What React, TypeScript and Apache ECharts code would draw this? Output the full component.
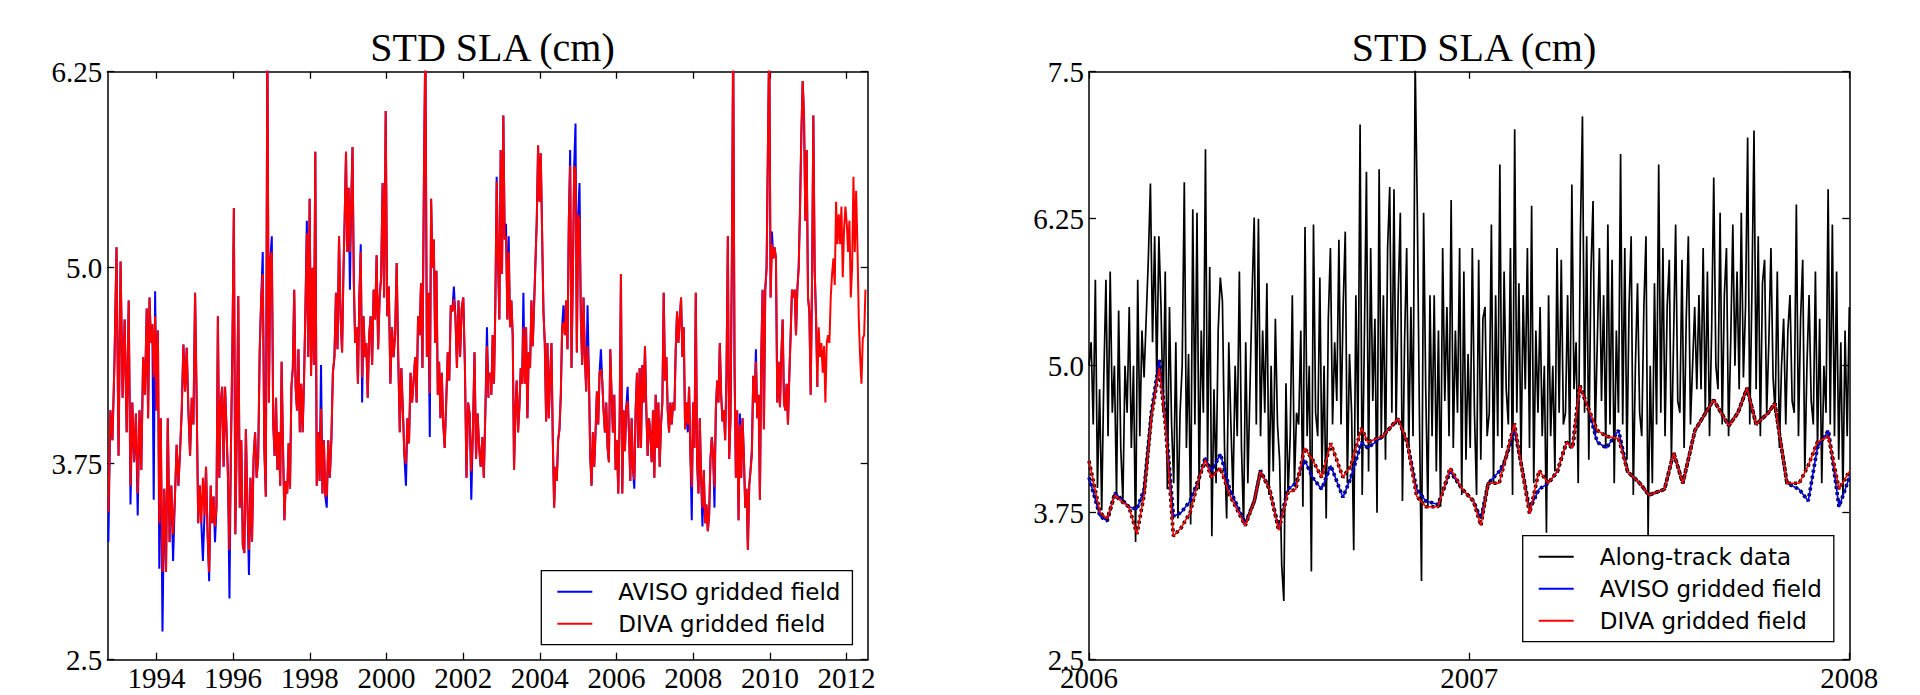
import React, { useEffect, useRef } from "react";
import * as echarts from "echarts";

// ---------- LEFT PANEL (1992.7 - 2012.5) ----------
const leftXMin = 1992.72;
const leftXMax = 2012.55;
const leftYearTicks = [1994, 1996, 1998, 2000, 2002, 2004, 2006, 2008, 2010, 2012];
// time stamps (decimal years) of every 10th reading of the first half
const leftAnchorsA = [
  1992.748, 1993.278, 1993.748, 1994.113, 1994.574, 1995.009, 1995.417, 1995.791, 1996.174,
  1996.574, 1996.974, 1997.339, 1997.704, 1998.070, 1998.443, 1998.843, 1999.183, 1999.548,
  1999.939, 2000.348, 2000.748, 2001.130, 2001.478, 2001.878, 2002.296, 2002.661,
];
const leftSegB = [2002.7, 2012.492];

const divaA = [
  3.44,4.09,3.90,4.40,5.13,3.80,5.04,4.17,4.67,3.95,
  4.79,3.61,4.14,3.76,4.07,3.56,4.09,3.71,4.43,4.19,
  4.74,4.04,4.81,4.52,4.64,4.30,4.69,4.09,4.60,3.37,
  4.04,3.06,3.59,3.06,4.04,3.25,3.61,3.30,3.52,3.87,
  3.61,3.83,4.09,4.51,4.21,4.49,4.09,3.80,4.17,4.00,
  4.84,4.17,3.37,3.61,3.37,3.66,3.42,3.73,3.30,3.06,
  3.61,3.37,3.54,3.35,3.47,4.69,3.66,4.14,4.24,3.73,
  4.24,3.97,3.66,3.20,3.85,4.50,5.38,3.30,3.95,4.82,
  3.47,3.90,3.23,3.18,3.97,3.49,3.20,3.66,3.25,3.78,
  3.95,3.66,3.78,4.46,4.81,4.96,3.85,3.54,6.50,4.14,
  5.06,5.10,4.00,3.80,4.17,3.71,3.95,3.61,4.40,3.85,
  3.39,3.64,3.56,3.88,3.59,4.24,4.36,4.86,4.24,4.09,
  4.48,3.95,4.26,3.95,4.28,4.74,5.22,4.43,5.44,4.31,
  5.00,4.38,5.74,3.61,3.95,3.64,4.10,3.56,3.90,3.54,
  3.55,3.90,3.66,3.90,4.33,4.43,4.84,4.48,5.20,4.69,
  4.46,4.96,5.32,5.74,5.10,5.51,5.10,5.42,5.77,4.91,
  4.52,4.62,4.26,4.81,5.10,4.30,4.69,4.43,4.52,4.17,
  4.57,4.69,4.38,4.86,4.67,5.08,4.48,4.81,4.94,5.54,
  4.81,6.00,4.69,4.88,4.26,4.62,4.43,4.57,5.03,4.43,
  3.95,4.36,4.09,3.80,3.75,4.04,3.88,4.33,4.14,4.28,
  4.43,4.14,4.69,4.57,4.90,4.36,5.58,6.50,4.43,4.84,
  4.20,5.44,5.00,5.18,4.52,4.98,4.19,4.40,4.04,4.33,
  4.02,3.85,4.14,4.46,4.28,4.76,4.72,4.80,4.69,4.36,
  4.79,4.43,4.74,4.81,4.38,3.66,4.14,4.07,3.70,3.95,
  4.46,3.78,4.07,3.85,3.73,3.92,3.66,4.09,4.50,4.17,
];

const avisoA = [
  3.25,4.09,3.90,4.40,5.13,3.80,5.04,4.17,4.67,3.95,
  4.79,3.49,4.14,3.76,4.07,3.42,4.09,3.71,4.43,4.19,
  4.74,4.04,4.81,4.52,4.64,3.52,4.85,4.09,4.60,3.08,
  4.04,2.68,3.59,3.06,4.04,3.25,3.61,3.13,3.52,3.87,
  3.61,3.83,4.09,4.51,4.21,4.49,4.09,3.80,4.17,4.00,
  4.84,4.17,3.37,3.61,3.37,3.13,3.42,3.73,3.30,3.00,
  3.61,3.37,3.54,3.25,3.47,4.69,3.66,4.14,4.24,3.73,
  4.24,3.97,3.66,2.89,3.85,4.50,5.38,3.30,3.95,4.82,
  3.47,3.90,3.23,3.18,3.97,3.49,3.04,3.66,3.25,3.78,
  3.95,3.66,3.78,4.46,4.81,5.10,3.85,3.54,6.50,4.14,
  5.06,5.20,4.00,3.80,4.17,3.71,3.95,3.61,4.40,3.85,
  3.39,3.64,3.56,3.88,3.59,4.24,4.36,4.86,4.24,4.09,
  4.48,3.95,4.26,3.95,4.28,4.74,5.30,4.43,5.44,4.31,
  5.00,4.38,5.74,3.61,3.95,3.64,4.38,3.56,3.90,3.54,
  3.47,3.90,3.66,3.90,4.33,4.43,4.84,4.48,5.20,4.69,
  4.46,4.96,5.32,5.74,5.10,5.51,4.86,5.42,5.77,4.91,
  4.52,4.62,4.26,4.81,5.15,4.14,4.69,4.43,4.52,4.17,
  4.57,4.69,4.38,4.86,4.67,5.08,4.48,4.81,4.94,5.54,
  4.81,6.00,4.69,4.88,4.26,4.62,4.43,4.57,5.03,4.43,
  3.95,4.36,4.09,3.80,3.61,4.04,3.88,4.33,4.14,4.28,
  4.43,4.14,4.69,4.57,4.90,4.36,5.58,6.50,4.43,4.84,
  3.92,5.44,5.00,5.18,4.52,4.98,4.19,4.40,4.04,4.33,
  4.02,3.85,4.14,4.46,4.28,4.76,4.72,4.88,4.69,4.36,
  4.79,4.43,4.74,4.81,4.38,3.66,4.14,4.07,3.52,3.95,
  4.46,3.78,4.07,3.85,3.73,3.92,3.66,4.09,4.62,4.17,
];

const divaB = [
  4.33,4.19,4.57,4.26,4.76,5.55,5.06,4.67,5.75,4.96,
  5.97,5.18,5.20,4.67,5.10,4.62,4.79,4.57,3.71,4.09,
  4.28,3.95,4.11,4.36,4.26,4.62,4.26,4.62,4.04,4.46,
  4.36,4.79,4.50,4.76,5.03,5.30,5.78,5.42,5.73,5.22,
  4.72,4.52,4.02,4.52,4.04,4.31,4.52,3.90,3.47,3.73,
  3.64,3.90,3.97,4.19,4.62,4.65,4.57,4.79,4.48,5.30,
  5.65,4.36,4.94,5.65,5.62,4.46,5.34,5.30,4.67,4.38,
  4.81,4.43,4.21,4.50,4.33,3.80,3.61,3.95,3.73,3.95,
  4.21,4.00,4.33,4.35,4.28,4.09,3.95,4.14,3.85,3.76,
  4.48,4.19,3.95,4.19,3.71,3.90,3.56,4.02,4.96,3.56,
  4.09,3.83,4.11,4.15,3.95,3.64,4.04,3.71,3.65,4.09,
  4.33,3.85,4.36,3.85,4.38,4.14,4.50,4.09,3.80,4.04,
  3.95,3.76,4.09,3.66,4.19,3.85,4.14,3.73,4.00,4.14,
  4.84,4.28,4.43,4.09,3.95,4.14,4.00,4.14,4.09,4.48,
  4.72,4.52,4.67,4.81,4.43,4.62,3.97,4.14,4.00,4.24,
  3.80,3.60,4.14,3.85,4.84,3.76,3.56,4.04,3.66,3.47,
  3.71,3.37,3.49,3.32,3.42,3.78,3.92,3.80,3.60,4.09,
  4.28,4.14,4.52,4.19,4.02,4.09,3.90,4.33,5.20,3.78,
  4.04,5.06,6.50,4.38,3.66,4.09,3.39,4.00,3.66,4.04,
  3.80,3.47,3.59,3.20,3.61,3.71,3.80,4.31,4.14,4.40,
  4.04,4.19,3.52,4.43,4.86,3.97,4.86,5.00,5.78,6.50,
  4.81,5.15,5.06,5.13,5.06,4.14,4.40,4.11,4.43,4.67,
  4.14,4.09,4.26,4.00,4.31,4.57,4.86,4.81,4.86,4.57,
  4.86,5.00,5.34,5.85,6.19,5.97,5.30,5.75,4.81,4.72,
  4.19,4.91,5.97,4.98,4.69,4.24,4.62,4.43,4.52,4.33,
  4.50,4.14,4.52,4.57,4.52,4.81,4.96,5.06,4.89,5.42,
  5.15,5.34,5.15,5.39,4.94,5.25,5.39,5.28,5.10,5.30,
  4.81,5.00,5.58,5.10,5.49,5.13,4.67,4.43,4.26,4.55,
  4.57,4.86,
];

const avisoB = [
  4.33,4.19,4.57,4.26,4.76,5.58,5.06,4.67,5.75,4.96,
  5.97,5.18,5.28,4.67,5.20,4.62,4.79,4.57,3.71,4.09,
  4.28,3.95,4.11,4.36,4.26,4.84,4.26,4.62,4.04,4.46,
  4.36,4.79,4.50,4.76,5.03,5.30,5.78,5.42,5.73,5.22,
  4.72,4.52,4.02,4.52,4.04,4.31,4.52,3.90,3.47,3.73,
  3.64,3.90,3.97,4.19,4.62,4.76,4.57,4.79,4.48,5.30,
  5.75,4.36,4.94,5.65,5.92,4.46,5.34,5.54,4.67,4.38,
  4.81,4.43,4.21,4.76,4.33,3.80,3.61,3.95,3.73,3.95,
  4.21,4.00,4.33,4.48,4.28,4.09,3.95,4.14,3.85,3.76,
  4.48,4.19,3.95,4.19,3.71,3.90,3.56,4.02,4.96,3.56,
  4.09,3.83,4.11,4.24,3.95,3.64,4.04,3.71,3.59,4.09,
  4.33,3.85,4.36,3.85,4.38,4.14,4.50,4.09,3.80,4.04,
  3.95,3.76,4.09,3.66,4.19,3.85,4.14,3.73,4.00,4.14,
  4.84,4.28,4.43,4.09,3.95,4.14,4.00,4.14,4.09,4.48,
  4.72,4.52,4.67,4.81,4.43,4.62,3.97,4.14,3.95,4.24,
  3.80,3.39,4.14,3.85,4.84,3.76,3.56,4.04,3.66,3.35,
  3.71,3.37,3.49,3.32,3.42,3.78,3.92,3.80,3.47,4.09,
  4.28,4.14,4.52,4.19,4.02,4.09,3.90,4.33,5.20,3.78,
  4.04,5.06,6.50,4.38,3.66,4.09,3.39,4.07,3.66,4.04,
  3.80,3.47,3.59,3.20,3.61,3.71,3.85,4.31,4.14,4.48,
  4.04,4.19,3.52,4.43,4.86,3.97,4.86,5.00,5.78,6.50,
  4.81,5.23,5.06,5.13,5.06,4.14,4.40,4.11,4.43,4.67,
  4.14,4.09,4.26,4.00,4.31,4.57,4.86,4.81,4.86,4.57,
  4.86,5.00,5.39,5.85,6.19,5.97,5.30,5.75,4.81,4.72,
  4.19,4.91,5.97,4.98,4.69,4.24,
];

// ---------- RIGHT PANEL (2006 - 2008) ----------
const rightYearTicks = [2006, 2007, 2008];

// along-track STD, read every ~2 days from 2006.0 to 2008.0
const alongTrack = [
  5.0,5.2,4.5,5.73,3.96,4.8,3.77,4.9,5.73,
  4.4,5.8,4.6,5.0,3.9,5.47,4.3,3.85,5.0,
  4.6,5.5,4.3,5.0,3.5,5.73,4.4,5.3,4.9,
  5.4,5.9,6.55,5.2,6.1,4.9,6.1,5.5,4.6,
  5.8,3.95,5.5,4.5,4.0,5.2,3.7,4.6,5.0,
  6.56,4.3,5.1,3.65,6.33,4.5,6.3,3.95,5.3,
  4.6,6.84,4.2,5.84,3.55,4.8,4.0,5.3,5.75,
  5.55,4.3,3.7,5.2,4.5,3.9,5.0,4.4,5.8,
  4.3,3.65,5.2,4.0,4.8,5.6,6.26,4.5,6.25,
  4.4,5.3,4.6,5.7,3.9,5.0,4.1,5.4,4.5,
  4.2,3.3,3.0,4.85,3.9,4.4,5.6,4.0,4.6,
  4.5,5.3,3.8,6.18,4.4,5.0,3.25,6.2,4.6,
  4.4,5.75,4.1,5.0,3.7,5.4,6.0,4.5,5.2,
  4.7,6.07,4.5,5.5,6.14,4.0,5.1,4.6,3.43,
  5.6,4.4,7.05,3.9,5.2,6.65,4.1,6.0,4.7,
  5.4,3.75,6.67,4.4,5.6,4.2,6.0,6.52,4.6,
  6.5,4.5,5.6,6.3,3.85,5.2,6.0,4.3,5.5,
  4.4,7.6,6.35,4.6,3.17,6.3,4.8,3.8,5.6,
  4.4,5.6,4.1,5.3,3.8,6.0,4.7,5.5,4.4,
  6.41,4.3,5.3,4.6,6.0,3.9,5.8,4.2,5.1,
  4.3,6.0,4.6,3.9,5.9,4.2,5.4,5.5,4.4,
  4.6,6.2,4.0,5.6,4.4,6.71,4.3,5.8,4.8,
  4.5,6.0,3.9,7.01,4.6,5.7,4.2,5.6,4.8,
  6.0,4.3,6.36,4.0,5.3,4.6,5.5,4.4,5.0,
  3.58,5.6,4.4,5.0,4.1,6.0,4.6,5.9,4.5,
  4.6,5.6,4.3,6.54,4.8,5.2,4.0,6.1,7.12,
  4.6,6.1,4.2,5.8,6.4,4.4,5.2,6.0,4.7,
  5.6,4.3,6.2,4.5,5.9,4.0,5.3,4.6,6.8,
  4.5,6.0,4.2,5.5,6.1,3.9,5.0,5.7,4.6,
  4.4,5.5,6.1,3.55,5.0,4.0,5.7,4.5,6.71,
  4.6,6.0,4.4,5.5,5.9,4.2,5.2,6.2,4.7,
  4.6,5.9,4.3,5.4,6.1,4.5,5.0,5.5,4.8,
  5.6,4.8,6.0,4.6,5.8,4.4,5.3,6.6,5.0,
  4.8,6.3,4.5,5.6,6.0,4.4,5.2,6.2,5.0,
  5.8,4.8,6.3,4.9,5.5,6.94,4.5,5.6,7.0,
  4.8,6.1,4.4,5.7,5.9,4.6,5.2,6.0,4.9,
  4.6,5.8,4.3,5.0,5.4,4.5,5.3,5.6,4.7,
  4.6,6.37,4.4,5.4,5.9,4.1,5.0,5.6,4.7,
  4.5,5.8,4.3,5.4,4.0,5.0,4.6,6.5,4.5,
  6.2,4.4,5.8,4.2,5.2,3.9,5.3,4.4,5.5,
];

const smoothYears = [
  2006.000,2006.029,2006.048,2006.068,2006.084,2006.105,2006.126,2006.145,2006.164,2006.185,
  2006.201,2006.222,2006.242,2006.266,2006.290,2006.306,2006.322,2006.346,2006.370,2006.411,
  2006.435,2006.451,2006.475,2006.499,2006.523,2006.544,2006.567,2006.588,2006.612,2006.636,
  2006.668,2006.689,2006.717,2006.733,2006.773,2006.813,2006.837,2006.862,2006.886,2006.918,
  2006.950,2006.982,2007.011,2007.031,2007.050,2007.079,2007.095,2007.119,2007.135,2007.159,
  2007.184,2007.208,2007.232,2007.256,2007.272,2007.291,2007.312,2007.337,2007.361,2007.393,
  2007.417,2007.449,2007.473,2007.514,2007.538,2007.562,2007.594,2007.643,2007.683,2007.707,
  2007.731,2007.755,2007.787,2007.804,2007.836,2007.868,2007.892,2007.916,2007.945,2007.973,
  2008.000,
];
const divaSmooth = [
  4.19,3.75,3.70,3.90,3.85,3.80,3.57,3.90,4.56,4.98,
  4.50,3.55,3.62,3.75,4.05,4.20,4.05,4.13,3.90,3.64,
  3.85,4.10,3.95,3.60,3.92,3.95,4.30,4.20,4.05,4.34,
  4.05,4.15,4.47,4.35,4.40,4.55,4.35,3.89,3.80,3.80,
  4.13,3.95,3.85,3.64,4.00,4.00,4.20,4.51,4.20,3.74,
  4.11,4.00,4.10,4.35,4.30,4.83,4.65,4.45,4.40,4.38,
  4.10,4.00,3.90,3.95,4.26,4.00,4.45,4.71,4.49,4.60,
  4.81,4.50,4.60,4.68,4.00,4.00,4.15,4.35,4.40,3.95,
  4.10,
];
const avisoSmooth = [
  4.05,3.72,3.68,3.92,3.87,3.80,3.78,3.95,4.60,5.05,
  4.55,3.72,3.75,3.85,4.05,4.22,4.10,4.25,3.95,3.66,
  3.85,4.11,3.95,3.62,3.95,4.00,4.20,4.05,3.95,4.15,
  3.88,4.05,4.35,4.30,4.40,4.55,4.35,3.95,3.85,3.82,
  4.10,3.95,3.85,3.70,4.00,4.10,4.20,4.45,4.20,3.78,
  3.95,4.00,4.10,4.35,4.30,4.83,4.65,4.35,4.30,4.45,
  4.10,4.00,3.90,3.95,4.26,4.00,4.45,4.71,4.49,4.60,
  4.81,4.50,4.60,4.68,4.00,3.95,3.85,4.30,4.45,3.80,
  4.05,
];

// ---------- helpers ----------
function spread(values: number[], seg: number[], refLen?: number) {
  const n = refLen || values.length;
  const step = (seg[1] - seg[0]) / (n - 1);
  return values.map((v, i) => [seg[0] + step * i, v]);
}
function spreadAnchored(values: number[], anchors: number[], every: number) {
  const last = values.length - 1;
  return values.map((v, i) => {
    const k = Math.min(Math.floor(i / every), anchors.length - 2);
    const i0 = k * every;
    const i1 = Math.min((k + 1) * every, last);
    const t = i1 === i0 ? 0 : (i - i0) / (i1 - i0);
    return [anchors[k] + (anchors[k + 1] - anchors[k]) * t, v];
  });
}
function pairs(xs: number[], ys: number[]) {
  return xs.map((x, i) => [x, ys[i]]);
}

const SERIF = "'Liberation Serif', 'Times New Roman', serif";
const SANS = "'DejaVu Sans', sans-serif";
const AXIS_LINE = { show: true, lineStyle: { color: "#000", width: 1.5 } };

function yFmt(v: number) {
  if (Math.abs(v - 5) < 1e-9) return "5.0";
  return String(v);
}

export default function App() {
  const ref = useRef<HTMLDivElement>(null);
  useEffect(() => {
    if (!ref.current) return;
    const chart = echarts.init(ref.current, null, { renderer: "svg" });

    const tickStyle = { color: "#000", width: 1.3 };
    const xBottom = (gridIndex: number, min: number, max: number, ticks: number[], extra: any) => ({
      gridIndex,
      type: "value",
      position: "bottom",
      min,
      max,
      ...extra,
      axisLine: AXIS_LINE,
      axisTick: { show: true, inside: true, length: 7, lineStyle: tickStyle, customValues: ticks },
      axisLabel: {
        show: true,
        customValues: ticks,
        formatter: (v: number) => String(Math.round(v)),
        fontFamily: SERIF,
        fontSize: 29,
        color: "#000",
        margin: 4,
      },
      splitLine: { show: false },
    });
    const xTop = (gridIndex: number, min: number, max: number, ticks: number[], extra: any) => ({
      gridIndex,
      type: "value",
      position: "top",
      min,
      max,
      ...extra,
      axisLine: AXIS_LINE,
      axisTick: { show: true, inside: true, length: 7, lineStyle: tickStyle, customValues: ticks },
      axisLabel: { show: false },
      splitLine: { show: false },
    });
    const yLeft = (gridIndex: number, min: number, max: number) => ({
      gridIndex,
      type: "value",
      position: "left",
      min,
      max,
      interval: 1.25,
      axisLine: AXIS_LINE,
      axisTick: { show: true, inside: true, length: 7, lineStyle: tickStyle },
      axisLabel: { show: true, formatter: yFmt, fontFamily: SERIF, fontSize: 29, color: "#000", margin: 5 },
      splitLine: { show: false },
    });
    const yRight = (gridIndex: number, min: number, max: number) => ({
      gridIndex,
      type: "value",
      position: "right",
      min,
      max,
      interval: 1.25,
      axisLine: AXIS_LINE,
      axisTick: { show: true, inside: true, length: 7, lineStyle: tickStyle },
      axisLabel: { show: false },
      splitLine: { show: false },
    });

    const lineSeries = (
      name: string,
      data: any[],
      color: string,
      xi: number,
      yi: number,
      width: number,
      z: number,
      extraLine?: any
    ) => ({
      name,
      type: "line",
      data,
      xAxisIndex: xi,
      yAxisIndex: yi,
      showSymbol: false,
      symbol: "none",
      color,
      lineStyle: { color, width, ...(extraLine || {}) },
      z,
      clip: true,
      silent: true,
    });

    const legendCommon = {
      orient: "vertical",
      padding: [9, 12, 9, 16],
      itemWidth: 35,
      itemHeight: 2,
      icon: "rect",
      borderColor: "#000",
      borderWidth: 1.3,
      backgroundColor: "#fff",
      borderRadius: 0,
      selectedMode: false,
      textStyle: { fontFamily: SANS, fontSize: 23, color: "#000", padding: [0, 0, 0, 21], lineHeight: 24 },
      z: 10,
    };

    const avisoSm = pairs(smoothYears, avisoSmooth);
    const divaSm = pairs(smoothYears, divaSmooth);

    chart.setOption({
      animation: false,
      backgroundColor: "#fff",
      title: [
        {
          text: "STD SLA (cm)",
          left: 487.5,
          top: 22,
          textAlign: "center",
          textStyle: { fontFamily: SERIF, fontSize: 40, fontWeight: "normal", color: "#000" },
        },
        {
          text: "STD SLA (cm)",
          left: 1469,
          top: 22,
          textAlign: "center",
          textStyle: { fontFamily: SERIF, fontSize: 40, fontWeight: "normal", color: "#000" },
        },
      ],
      grid: [
        { left: 107.3, top: 71.7, width: 760.4, height: 588, containLabel: false },
        { left: 1089, top: 71.7, width: 760.3, height: 588, containLabel: false },
      ],
      xAxis: [
        xBottom(0, leftXMin, leftXMax, leftYearTicks, {}),
        xTop(0, leftXMin, leftXMax, leftYearTicks, {}),
        xBottom(1, 2006, 2008, rightYearTicks, { interval: 1 }),
        xTop(1, 2006, 2008, rightYearTicks, { interval: 1 }),
      ],
      yAxis: [yLeft(0, 2.5, 6.25), yRight(0, 2.5, 6.25), yLeft(1, 2.5, 7.5), yRight(1, 2.5, 7.5)],
      legend: [
        {
          ...legendCommon,
          left: 541.3,
          top: 570.7,
          data: ["AVISO gridded field", "DIVA gridded field"],
        },
        {
          ...legendCommon,
          left: 1522.7,
          top: 535.7,
          data: ["Along-track data", "AVISO gridded field", "DIVA gridded field"],
        },
      ],
      series: [
        lineSeries("AVISO gridded field", spreadAnchored(avisoA, leftAnchorsA, 10), "#0000ff", 0, 0, 2, 2),
        lineSeries("AVISO gridded field", spread(avisoB, leftSegB, divaB.length), "#0000ff", 0, 0, 2, 2),
        lineSeries("DIVA gridded field", spreadAnchored(divaA, leftAnchorsA, 10), "#ff0000", 0, 0, 2, 3),
        lineSeries("DIVA gridded field", spread(divaB, leftSegB), "#ff0000", 0, 0, 2, 3),
        lineSeries("Along-track data", spread(alongTrack, [2006, 2008]), "#000000", 2, 2, 1.7, 2),
        lineSeries("aviso-edge", avisoSm, "#000000", 2, 2, 3.6, 3, { type: [3, 3] }),
        lineSeries("AVISO gridded field", avisoSm, "#0000ff", 2, 2, 1.6, 4),
        lineSeries("diva-edge", divaSm, "#000000", 2, 2, 3.6, 5, { type: [3, 3] }),
        lineSeries("DIVA gridded field", divaSm, "#ff0000", 2, 2, 1.6, 6),
      ],
    });
    return () => chart.dispose();
  }, []);
  return (
    <div
      ref={ref}
      style={{ position: "fixed", left: 0, top: 0, width: 1920, height: 695, background: "#fff" }}
    />
  );
}
